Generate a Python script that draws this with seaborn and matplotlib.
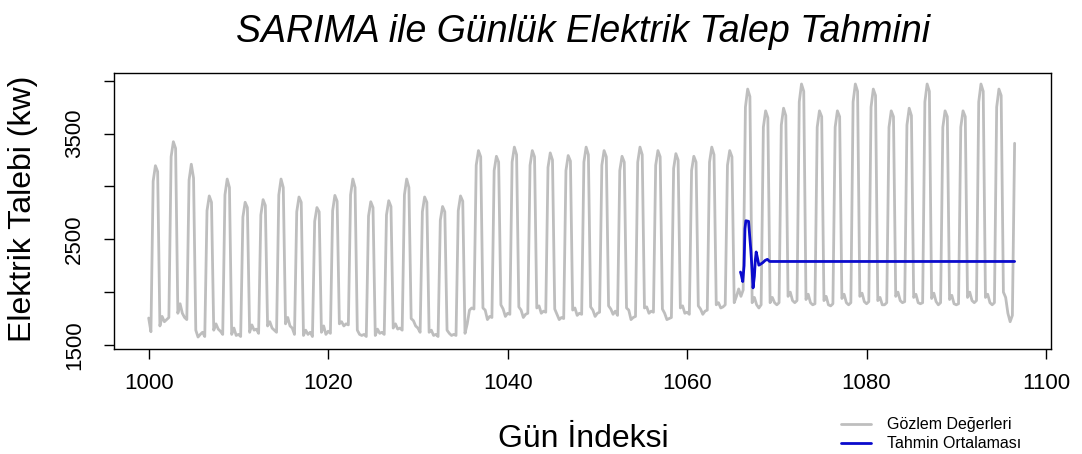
import numpy as np
import pandas as pd
import seaborn as sns
import matplotlib
matplotlib.use("Agg")
import matplotlib.pyplot as plt
from matplotlib.lines import Line2D

# observed demand, one row per 2-day cycle, sampled every 0.25 day
# (offsets 0, .25, .5, .75, 1, 1.25, 1.5, 1.75 from the cycle start)
obs_1000_1035 = [
    [1755, 1625, 3050, 3196, 3140, 1680, 1770, 1720],
    [1740, 1760, 3280, 3423, 3360, 1800, 1890, 1800],
    [1760, 1740, 3060, 3210, 3080, 1640, 1575, 1600],
    [1620, 1580, 2770, 2910, 2850, 1640, 1700, 1650],
    [1630, 1600, 2920, 3070, 2990, 1600, 1660, 1590],
    [1600, 1580, 2710, 2850, 2800, 1620, 1690, 1640],
    [1650, 1610, 2730, 2875, 2820, 1680, 1720, 1660],
    [1640, 1620, 2920, 3070, 2990, 1700, 1760, 1680],
    [1660, 1600, 2760, 2900, 2850, 1590, 1640, 1600],
    [1620, 1580, 2670, 2800, 2760, 1620, 1680, 1600],
    [1630, 1610, 2770, 2915, 2860, 1700, 1720, 1680],
    [1700, 1690, 2920, 3070, 2990, 1640, 1600, 1590],
    [1600, 1580, 2720, 2855, 2800, 1590, 1650, 1610],
    [1620, 1600, 2730, 2865, 2810, 1660, 1700, 1650],
    [1660, 1640, 2920, 3070, 2990, 1750, 1730, 1680],
    [1660, 1620, 2760, 2900, 2850, 1620, 1640, 1590],
    [1600, 1580, 2680, 2810, 2760, 1640, 1610, 1590],
    [1600, 1590, 2770, 2910, 2860, 1610, 1700, 1830],
]
obs_1036_1065 = [
    [1850, 1840, 3200, 3339, 3280, 1850, 1830, 1740],
    [1770, 1760, 3150, 3285, 3230, 1880, 1840, 1770],
    [1800, 1790, 3230, 3372, 3300, 1860, 1830, 1760],
    [1790, 1800, 3200, 3339, 3280, 1850, 1870, 1800],
    [1820, 1810, 3180, 3317, 3250, 1840, 1790, 1740],
    [1760, 1750, 3150, 3292, 3240, 1830, 1850, 1780],
    [1800, 1790, 3230, 3372, 3300, 1860, 1830, 1770],
    [1800, 1810, 3200, 3339, 3280, 1870, 1840, 1790],
    [1820, 1780, 3150, 3285, 3230, 1850, 1830, 1740],
    [1760, 1770, 3230, 3372, 3300, 1850, 1860, 1800],
    [1820, 1810, 3200, 3339, 3280, 1840, 1800, 1740],
    [1750, 1760, 3170, 3310, 3250, 1850, 1870, 1800],
    [1810, 1790, 3150, 3285, 3230, 1870, 1840, 1790],
    [1820, 1830, 3230, 3372, 3300, 1880, 1900, 1850],
    [1860, 1880, 3200, 3339, 3280, 1900, 1960, 2030],
]
obs_1066_1096 = [
    [1960, 2020, 3750, 3921, 3850, 1900, 1950, 1880],
    [1850, 1880, 3560, 3715, 3650, 1900, 1950, 1900],
    [1880, 1900, 3580, 3740, 3670, 1960, 2000, 1920],
    [1900, 1920, 3800, 3969, 3900, 1930, 1980, 1900],
    [1880, 1890, 3560, 3715, 3660, 1920, 1960, 1880],
    [1870, 1890, 3560, 3715, 3660, 1940, 1980, 1900],
    [1880, 1900, 3800, 3969, 3900, 1960, 1990, 1910],
    [1890, 1910, 3750, 3921, 3860, 1920, 1950, 1880],
    [1880, 1900, 3560, 3715, 3660, 1960, 2000, 1920],
    [1900, 1910, 3580, 3740, 3670, 1950, 1980, 1900],
    [1890, 1900, 3800, 3969, 3900, 1940, 1990, 1910],
    [1880, 1900, 3560, 3715, 3660, 1930, 1970, 1890],
    [1880, 1890, 3560, 3715, 3660, 1950, 2000, 1920],
    [1900, 1920, 3800, 3969, 3900, 1950, 1980, 1900],
    [1880, 1900, 3750, 3921, 3860, 2000, 1950, 1800],
]
obs_tail = [1720, 1780, 3408]

# SARIMA forecast mean
fc_day = [1065.95, 1066.05, 1066.2, 1066.35, 1066.45, 1066.55, 1066.85, 1066.95,
          1067.1, 1067.25, 1067.35, 1067.5, 1067.6, 1067.7, 1067.85, 1068.0,
          1068.2, 1068.45, 1068.7, 1068.95, 1069.2, 1096.5]
fc_mean = [2190, 2160, 2100, 2250, 2600, 2675, 2670, 2560,
           2400, 2200, 2040, 2150, 2300, 2380, 2320, 2255,
           2265, 2280, 2300, 2310, 2290, 2290]

obs_vals = [v for seg in (obs_1000_1035, obs_1036_1065, obs_1066_1096) for row in seg for v in row]
obs_vals += obs_tail
obs = pd.DataFrame({"day": 1000 + 0.25 * np.arange(len(obs_vals)), "demand": obs_vals})
fc = pd.DataFrame({"day": fc_day, "demand": fc_mean})

sns.set_theme(style="white")
plt.rcParams["font.family"] = ["Liberation Sans", "DejaVu Sans"]
plt.rcParams["text.color"] = "black"

fig = plt.figure(figsize=(10.82, 4.54), dpi=100)
ax = fig.add_axes([0.1054, 0.2313, 0.8655, 0.6072])

gray = "#BEBEBE"
blue = "#0A0ACC"
sns.lineplot(data=obs, x="day", y="demand", ax=ax, color=gray, linewidth=2.0)
sns.lineplot(data=fc, x="day", y="demand", ax=ax, color=blue, linewidth=2.0)

ax.set_xlim(996.14, 1100.5)
ax.set_ylim(1462, 4070)
ax.set_xticks(np.arange(1000, 1101, 20))
ax.set_yticks(np.arange(1500, 4001, 500))
ax.set_yticklabels(["1500", "", "2500", "", "3500", ""])
ax.tick_params(axis="both", direction="out", length=7, width=1, color="black",
               labelsize=16, labelcolor="black", bottom=True, left=True)
ax.tick_params(axis="x", pad=10)
ax.tick_params(axis="y", pad=14)
for lbl in ax.get_yticklabels():
    lbl.set_rotation(90)
    lbl.set_va("center")
for sp in ax.spines.values():
    sp.set_color("black")
    sp.set_linewidth(1.0)

ax.set_xlabel("")
ax.set_ylabel("")
fig.text(0.5388, 0.033, "Gün İndeksi", fontsize=23, ha="center", va="center")
fig.text(0.021, 0.54, "Elektrik Talebi (kw)", fontsize=23, rotation=90, ha="center", va="center")
fig.text(0.5388, 0.93, "SARIMA ile Günlük Elektrik Talep Tahmini", fontsize=27,
         style="italic", ha="center", va="center")

handles = [Line2D([], [], color=gray, lw=2.0), Line2D([], [], color=blue, lw=2.0)]
fig.legend(handles, ["Gözlem Değerleri", "Tahmin Ortalaması"], loc="upper left",
           bbox_to_anchor=(0.777, 0.081), frameon=False, fontsize=11.5,
           handlelength=1.9, handletextpad=1.0, labelspacing=0.25,
           borderpad=0, borderaxespad=0)

fig.savefig("out.png", dpi=100)
